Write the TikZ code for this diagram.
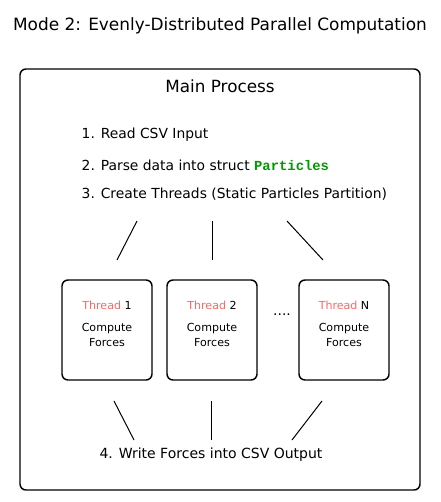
\documentclass[tikz,border=0pt]{standalone}
\usepackage{fontspec}
\setmainfont{DejaVu Sans}
\newfontfamily\codefont{Liberation Mono}
\usepackage{xcolor}
\definecolor{threadred}{RGB}{255,102,102}
\definecolor{codegreen}{RGB}{0,153,0}

\begin{document}
\begin{tikzpicture}[x=0.75pt,y=-0.75pt,
    box/.style={draw,line width=1.1pt,rounded corners=4.5pt},
    link/.style={line width=0.75pt},
    steptext/.style={font=\fontsize{10.4}{12}\selectfont,anchor=west},
    small/.style={font=\fontsize{8.3}{11.5}\selectfont,align=center}]
        \useasboundingbox (0,0) rectangle (440,502);

        % title
        \node[font=\fontsize{12.7}{15}\selectfont] (title) at (220,26) {Mode 2: Evenly-Distributed Parallel Computation};

        % main process
        \node[box,minimum width=300pt,minimum height=315.75pt] (main) at (220,279.5) {};
        \node[font=\fontsize{12.6}{15}\selectfont] (mainlab) at (220,86) {Main Process};

        % steps
        \node[steptext] (step1) at (77,135) {1. Read CSV Input};
        \node[steptext] (step2) at (77,165) {2. Parse data into struct {\codefont\bfseries\color{codegreen}Particles}};
        \node[steptext] (step3) at (77,194) {3. Create Threads (Static Particles Partition)};

        % threads
        \node[box,minimum width=67.5pt,minimum height=75pt] (t1) at (107,330) {};
        \node[box,minimum width=67.5pt,minimum height=75pt] (t2) at (212,330) {};
        \node[box,minimum width=67.5pt,minimum height=75pt] (tN) at (344,330) {};
        \node[small] (t1lab) at (107,305) {\color{threadred}Thread \color{black}1};
        \node[small] (t2lab) at (212,305) {\color{threadred}Thread \color{black}2};
        \node[small] (tNlab) at (344,305) {\color{threadred}Thread \color{black}N};
        \node[small] (t1txt) at (107,335) {Compute\\Forces};
        \node[small] (t2txt) at (212,335) {Compute\\Forces};
        \node[small] (tNtxt) at (344,335) {Compute\\Forces};
        \node[font=\fontsize{10.4}{12}\selectfont] (dots) at (282,315) {....};

        % output
        \node[font=\fontsize{10.5}{12}\selectfont] (output) at (211,455) {4. Write Forces into CSV Output};

        % fork lines
        \coordinate (f1a) at (137,221); \coordinate (f1b) at (117,260);
        \coordinate (f2a) at (212,221); \coordinate (f2b) at (212,260);
        \coordinate (f3a) at (287,221); \coordinate (f3b) at (323,260);
        \draw[link] (f1a) -- (f1b);
        \draw[link] (f2a) -- (f2b);
        \draw[link] (f3a) -- (f3b);

        % join lines
        \coordinate (j1a) at (114,401); \coordinate (j1b) at (134,440);
        \coordinate (j2a) at (211,401); \coordinate (j2b) at (211,440);
        \coordinate (j3a) at (322,401); \coordinate (j3b) at (292,440);
        \draw[link] (j1a) -- (j1b);
        \draw[link] (j2a) -- (j2b);
        \draw[link] (j3a) -- (j3b);
    \end{tikzpicture}
\end{document}
